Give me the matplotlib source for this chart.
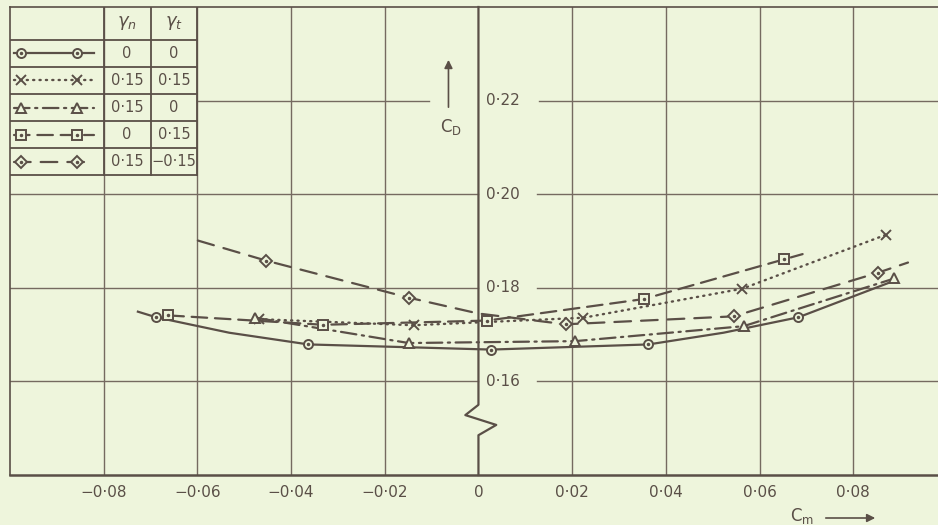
import numpy as np
import matplotlib.pyplot as plt

# colours of the old print
bg = "#eef5dc"
ink = "#5a4f47"
grid = "#756a60"

# series (Cm, CD) -- marker points
circ_x = [-0.0688, -0.0363, 0.0027, 0.0363, 0.0683]
circ_y = [0.1737, 0.1679, 0.1668, 0.1679, 0.1737]
cross_x = [-0.0468, -0.0138, 0.0224, 0.0563, 0.0869]
cross_y = [0.1733, 0.1720, 0.1736, 0.1798, 0.1913]
tri_x = [-0.0476, -0.0149, 0.0206, 0.0566, 0.0888]
tri_y = [0.1736, 0.1682, 0.1686, 0.1718, 0.1820]
sq_x = [-0.0662, -0.0331, 0.0019, 0.0353, 0.0653]
sq_y = [0.1741, 0.1721, 0.1730, 0.1776, 0.1861]
dia_x = [-0.0453, -0.0149, 0.0186, 0.0545, 0.0852]
dia_y = [0.1858, 0.1779, 0.1722, 0.1739, 0.1832]

# faired curves as drawn (incl. where the pen starts / stops)
circ_cx = [-0.0727, -0.0688, -0.0532, -0.0363, 0.0027, 0.0363, 0.0523, 0.0683, 0.0877]
circ_cy = [0.1749, 0.1737, 0.1704, 0.1679, 0.1668, 0.1679, 0.1704, 0.1737, 0.1811]
cross_cx = cross_x
cross_cy = cross_y
tri_cx = tri_x
tri_cy = tri_y
sq_cx = [-0.0662, -0.0331, 0.0019, 0.0353, 0.0653, 0.0692]
sq_cy = [0.1741, 0.1721, 0.1730, 0.1776, 0.1861, 0.1872]
dia_cx = [-0.0599, -0.0453, -0.0149, 0.0000, 0.0186, 0.0545, 0.0852, 0.0917]
dia_cy = [0.1901, 0.1858, 0.1779, 0.1745, 0.1722, 0.1739, 0.1832, 0.1854]

# key table
gam_n = ["0", "0·15", "0·15", "0", "0·15"]
gam_t = ["0", "0·15", "0", "0·15", "−0·15"]

xticks = [-0.08, -0.06, -0.04, -0.02, 0, 0.02, 0.04, 0.06, 0.08]
xlabels = ["−0·08", "−0·06", "−0·04", "−0·02", "0", "0·02", "0·04", "0·06", "0·08"]
yticks = [0.16, 0.18, 0.20, 0.22]
ylabels = ["0·16", "0·18", "0·20", "0·22"]

styles = [
    dict(ls="-", marker="o", ms=6.5, dot=True),
    dict(ls=(0, (0.5, 2.2)), marker="x", ms=7, dot=False),
    dict(ls=(0, (7, 2.5, 1, 2.5)), marker="^", ms=7.5, dot=False),
    dict(ls=(0, (7, 3.5)), marker="s", ms=6.5, dot=True),
    dict(ls=(0, (7.5, 4.5)), marker="D", ms=6, dot=True),
]
curves = [(circ_cx, circ_cy), (cross_cx, cross_cy), (tri_cx, tri_cy),
          (sq_cx, sq_cy), (dia_cx, dia_cy)]
points = [(circ_x, circ_y), (cross_x, cross_y), (tri_x, tri_y),
          (sq_x, sq_y), (dia_x, dia_y)]

fig = plt.figure(figsize=(9.38, 5.25), dpi=100)
fig.patch.set_facecolor(bg)
ax = fig.add_axes([10/938, 50/525, 928/938, 468/525])
ax.set_facecolor(bg)
ax.set_xlim(-0.1, 0.0981)
ax.set_ylim(0.14, 0.24)

for s in ["left", "top"]:
    ax.spines[s].set_color(ink)
    ax.spines[s].set_linewidth(1.2)
ax.spines["bottom"].set_color(ink)
ax.spines["bottom"].set_linewidth(1.8)
ax.spines["right"].set_visible(False)
ax.set_yticks([])
ax.set_xticks(xticks, labels=xlabels)
ax.tick_params(axis="x", length=0, pad=7, labelsize=11, labelcolor=ink)

# grid
for xv in xticks:
    if xv != 0:
        ax.axvline(xv, color=grid, lw=1.0, zorder=1)
for yv in yticks[:3]:
    ax.plot([-0.1, 0], [yv, yv], color=grid, lw=1.0, zorder=1)
    ax.plot([0.0126, 0.0981], [yv, yv], color=grid, lw=1.0, zorder=1)
ax.plot([-0.06, -0.0105], [0.22, 0.22], color=grid, lw=1.0, zorder=1)
ax.plot([0.013, 0.0981], [0.22, 0.22], color=grid, lw=1.0, zorder=1)

# y axis at Cm = 0 with break
ax.plot([0, 0, -0.0028, 0.0038, 0, 0], [0.24, 0.155, 0.1528, 0.1507, 0.1485, 0.14],
        color=ink, lw=1.6, zorder=3, clip_on=False)
for yv, lab in zip(yticks, ylabels):
    ax.text(0.0017, yv, lab, ha="left", va="center", fontsize=11, color=ink)

ax.annotate("", xy=(-0.0064, 0.2293), xytext=(-0.0064, 0.2180),
            arrowprops=dict(arrowstyle="-|>", color=ink, lw=1.2, mutation_scale=12))
ax.text(-0.0058, 0.2144, r"$\mathregular{C_D}$", ha="center", va="center",
        fontsize=12, color=ink)

# curves and points
for (cx, cy), (px, py), st in zip(curves, points, styles):
    lw = 1.7 if st["marker"] == "x" else 1.6
    ax.plot(cx, cy, color=ink, lw=lw, ls=st["ls"], dash_capstyle="round", zorder=4)
    ax.plot(px, py, ls="none", marker=st["marker"], ms=st["ms"], mfc=bg,
            mec=ink, mew=1.4, color=ink, zorder=5)
    if st["dot"]:
        ax.plot(px, py, ls="none", marker=".", ms=3, color=ink, zorder=6)

# key table (top left)
rows = [0.24, 0.233, 0.2272, 0.2214, 0.2156, 0.2098, 0.204]
for yv in rows[1:]:
    ax.plot([-0.1, -0.06], [yv, yv], color=ink, lw=1.3, zorder=2)
ax.plot([-0.07, -0.07], [rows[-1], rows[0]], color=ink, lw=1.3, zorder=2)
ax.plot([-0.08, -0.08], [rows[-1], rows[0]], color=ink, lw=1.3, zorder=2)
ax.plot([-0.06, -0.06], [rows[-1], rows[0]], color=ink, lw=1.3, zorder=2)
hy = (rows[0] + rows[1]) / 2
ax.text(-0.075, hy, r"$\gamma_n$", ha="center", va="center", fontsize=13, color=ink)
ax.text(-0.065, hy, r"$\gamma_t$", ha="center", va="center", fontsize=13, color=ink)
for i, st in enumerate(styles):
    yc = (rows[i + 1] + rows[i + 2]) / 2
    lw = 1.7 if st["marker"] == "x" else 1.6
    ax.plot([-0.0991, -0.0820], [yc, yc], color=ink, lw=lw, ls=st["ls"],
            dash_capstyle="round", zorder=4)
    ax.plot([-0.0976, -0.0858], [yc, yc], ls="none", marker=st["marker"],
            ms=st["ms"], mfc=bg, mec=ink, mew=1.4, zorder=5)
    if st["dot"]:
        ax.plot([-0.0976, -0.0858], [yc, yc], ls="none", marker=".", ms=3,
                color=ink, zorder=6)
    ax.text(-0.075, yc, gam_n[i], ha="center", va="center", fontsize=10.5, color=ink)
    ax.text(-0.065, yc, gam_t[i], ha="center", va="center", fontsize=10.5, color=ink)

# Cm label with arrow
fig.text(802/938, 9/525, r"$\mathregular{C_m}$", ha="center", va="center",
         fontsize=12, color=ink)
ax.annotate("", xy=(878, 7), xytext=(823, 7), xycoords="figure pixels",
            textcoords="figure pixels", annotation_clip=False,
            arrowprops=dict(arrowstyle="-|>", color=ink, lw=1.2, mutation_scale=12))

fig.savefig("out.png", dpi=100, facecolor=bg)
